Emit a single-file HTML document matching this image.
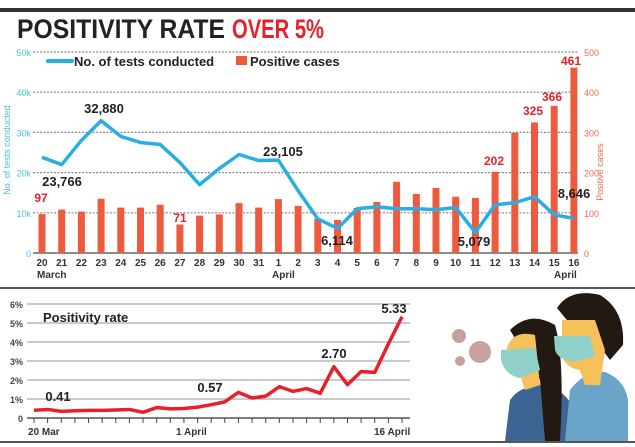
<!DOCTYPE html>
<html><head><meta charset="utf-8"><style>
html,body{margin:0;padding:0;background:#fff;width:635px;height:447px;overflow:hidden}
svg{display:block;font-family:"Liberation Sans",sans-serif}
</style></head><body>
<svg id="s" width="635" height="447" xmlns="http://www.w3.org/2000/svg">
<rect x="0" y="8" width="635" height="4" fill="#333"/>
<text x="17" y="38" font-size="27" font-weight="bold" fill="#222" textLength="208" lengthAdjust="spacingAndGlyphs">POSITIVITY RATE</text>
<text x="232" y="38" font-size="27" font-weight="bold" fill="#e8202a" textLength="92" lengthAdjust="spacingAndGlyphs">OVER 5%</text>
<g id="top"></g>
<rect x="0" y="287" width="635" height="2" fill="#555"/>
<rect x="0" y="441" width="635" height="2" fill="#555"/>
<g id="bot"></g>
<!-- illustration -->
<g>
<circle cx="459" cy="336" r="7" fill="#c9a0a0"/>
<circle cx="480" cy="352" r="11" fill="#c9a0a0"/>
<circle cx="460" cy="361" r="5" fill="#c9a0a0"/>
<path d="M505 441 L510 400 Q520 385 545 385 Q565 390 575 410 L575 441Z" fill="#3d6594"/>
<path d="M510 330 Q530 310 555 325 Q565 360 560 441 L545 441 L540 380 Z" fill="#221a12"/>
<path d="M508 345 Q515 330 535 335 L540 385 L525 390 L520 375 Q505 372 505 355Z" fill="#f6c15a"/>
<path d="M501 350 L535 348 L540 370 L520 378 Q505 375 501 360Z" fill="#8fd1c8"/>
<path d="M565 441 L570 390 Q585 370 605 372 Q625 380 628 400 L628 441Z" fill="#6aa4c8"/>
<path d="M557 308 Q570 288 600 295 Q625 310 623 345 L610 360 L595 340 L575 330 Z" fill="#221a12"/>
<path d="M562 320 L595 320 L605 350 L600 385 L585 385 L580 370 Q565 368 562 355Z" fill="#f6c15a"/>
<path d="M554 336 L590 336 L595 356 L575 362 Q558 360 555 350Z" fill="#8fd1c8"/>
</g>
</svg>
<script>
var ns="http://www.w3.org/2000/svg";
function el(p,t,a,txt){var e=document.createElementNS(ns,t);for(var k in a)e.setAttribute(k,a[k]);if(txt!=null)e.textContent=txt;p.appendChild(e);return e;}
var T=document.getElementById('top');
var y0=253,yT=52;
var labs=['20','21','22','23','24','25','26','27','28','29','30','31','1','2','3','4','5','6','7','8','9','10','11','12','13','14','15','16'];
function X(i){return 42+i*19.7;}
for(var k=0;k<=5;k++){var y=y0-k*(y0-yT)/5;
 if(k>0)el(T,'line',{x1:33,x2:578,y1:y,y2:y,stroke:'#888','stroke-width':1.2,'stroke-dasharray':'2,1.5'});
 el(T,'text',{x:31,y:y+4,'font-size':9,fill:'#4bbfe8','text-anchor':'end'},k==0?'0':(k*10)+'k');
 el(T,'text',{x:584,y:y+4,'font-size':9,fill:'#f06a50'},String(k*100));}
el(T,'line',{x1:33,x2:578,y1:y0,y2:y0,stroke:'#666','stroke-width':1.5});
el(T,'text',{x:0,y:0,'font-size':9,fill:'#4bbfe8','text-anchor':'middle',transform:'translate(10,150) rotate(-90)'},'No. of tests conducted');
el(T,'text',{x:0,y:0,'font-size':9,fill:'#f06a50','text-anchor':'middle',transform:'translate(603,172) rotate(-90)'},'Positive cases');
var cases=[97,108,103,135,113,113,120,71,93,96,124,113,134,117,85,82,112,127,177,147,162,140,137,202,299,325,366,461];
var tests=[23.8,22,28,32.9,29,27.5,27,22.5,17,21,24.5,23,23.1,15.5,8.5,6.1,11,11.5,11,11,10.8,11.3,5.1,12,12.5,14,9.5,8.6];
for(var i=0;i<28;i++){var h=cases[i]*(y0-yT)/500;
 el(T,'rect',{x:X(i)-3.5,y:y0-h,width:7,height:h,fill:'#ee5a3e'});
 el(T,'text',{x:X(i),y:266,'font-size':10,'font-weight':'bold',fill:'#333','text-anchor':'middle'},labs[i]);}
var pts=tests.map(function(v,i){return X(i)+','+(y0-v*(y0-yT)/50)}).join(' ');
el(T,'polyline',{points:pts,fill:'none',stroke:'#29aee3','stroke-width':3.5,'stroke-linejoin':'round'});
el(T,'text',{x:37,y:278,'font-size':10,'font-weight':'bold',fill:'#333'},'March');
el(T,'text',{x:272,y:278,'font-size':10,'font-weight':'bold',fill:'#333'},'April');
el(T,'text',{x:554,y:278,'font-size':10,'font-weight':'bold',fill:'#333'},'April');
el(T,'line',{x1:48,x2:72,y1:61,y2:61,stroke:'#29aee3','stroke-width':4,'stroke-linecap':'round'});
el(T,'text',{x:74,y:66,'font-size':13,'font-weight':'bold',fill:'#222'},'No. of tests conducted');
el(T,'rect',{x:236,y:56,width:11,height:9,fill:'#ee5a3e'});
el(T,'text',{x:250,y:66,'font-size':13,'font-weight':'bold',fill:'#222'},'Positive cases');
function L(x,y,t,c,s){el(T,'text',{x:x,y:y,'font-size':s||13,'font-weight':'bold',fill:c,'text-anchor':'middle'},t);}
L(62,186,'23,766','#222');L(104,113,'32,880','#222');L(283,156,'23,105','#222');
L(337,245,'6,114','#222');L(474,246,'5,079','#222');L(574,198,'8,646','#222');
L(41,202,'97','#e8202a',12);L(180,222,'71','#e8202a',12);L(494,165,'202','#e8202a',12);
L(533,115,'325','#e8202a',12);L(552,101,'366','#e8202a',12);L(571,65,'461','#e8202a',12);
var B=document.getElementById('bot');var b0=418,bs=19;
function XB(i){return 34+i*13.63;}
for(var k=0;k<=6;k++){var y=b0-k*bs;
 if(k>0)el(B,'line',{x1:27,x2:410,y1:y,y2:y,stroke:'#aaa','stroke-width':1.2});
 el(B,'text',{x:23,y:y+4,'font-size':9,'font-weight':'bold',fill:'#444','text-anchor':'end'},k==0?'0':k+'%');}
el(B,'line',{x1:27,x2:410,y1:b0,y2:b0,stroke:'#555','stroke-width':1.5});
for(var i=0;i<28;i++)el(B,'line',{x1:XB(i),x2:XB(i),y1:b0,y2:b0+5,stroke:'#444','stroke-width':1});
var pr=[0.41,0.45,0.35,0.38,0.4,0.4,0.42,0.45,0.3,0.55,0.48,0.5,0.57,0.7,0.85,1.35,1.05,1.15,1.65,1.4,1.55,1.3,2.7,1.75,2.45,2.4,3.9,5.33];
el(B,'polyline',{points:pr.map(function(v,i){return XB(i)+','+(b0-v*bs)}).join(' '),fill:'none',stroke:'#e8202a','stroke-width':3.5,'stroke-linejoin':'round'});
el(B,'text',{x:43,y:322,'font-size':13,'font-weight':'bold',fill:'#222'},'Positivity rate');
function M(x,y,t){el(B,'text',{x:x,y:y,'font-size':13,'font-weight':'bold',fill:'#222','text-anchor':'middle'},t);}
M(58,401,'0.41');M(210,392,'0.57');M(334,358,'2.70');M(394,313,'5.33');
el(B,'text',{x:28,y:435,'font-size':10,'font-weight':'bold',fill:'#333'},'20 Mar');
el(B,'text',{x:176,y:435,'font-size':10,'font-weight':'bold',fill:'#333'},'1 April');
el(B,'text',{x:374,y:435,'font-size':10,'font-weight':'bold',fill:'#333'},'16 April');
</script>
</body></html>
